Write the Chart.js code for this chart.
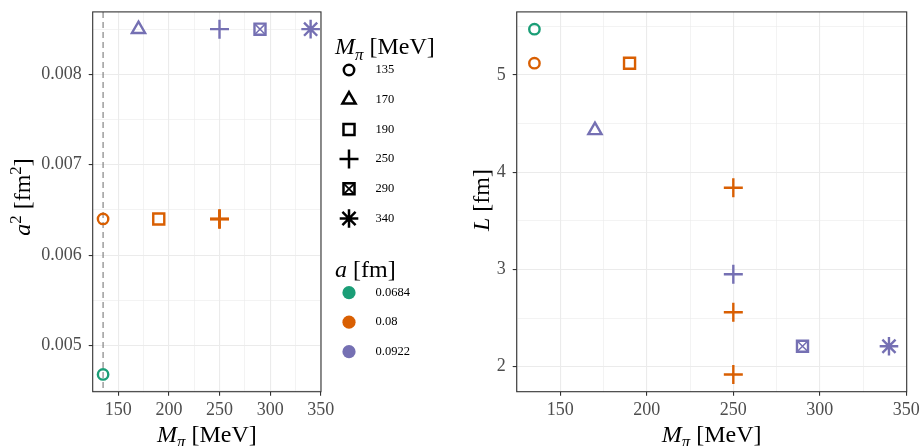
<!DOCTYPE html>
<html>
<head>
<meta charset="utf-8">
<script src="https://cdn.jsdelivr.net/npm/chart.js@4.4.1/dist/chart.umd.min.js"></script>
<style>
  html, body { margin: 0; padding: 0; background: #fff; }
  #wrap { position: relative; width: 921px; height: 446px; overflow: hidden; }
  .box { position: absolute; top: 0; height: 446px; }
  #leftBox { left: 0; width: 460px; }
  #rightBox { left: 460px; width: 461px; }
</style>
</head>
<body>
<div id="wrap">
  <div class="box" id="leftBox"><canvas id="leftChart"></canvas></div>
  <div class="box" id="rightBox"><canvas id="rightChart"></canvas></div>
</div>
<script>
// ensembles: pion mass [MeV], lattice spacing a [fm], a^2 [fm^2], box size L [fm]
var ensMpi = [135, 135, 190, 250, 250, 250, 170, 250, 290, 340];
var ensA   = ['0.0684', '0.08', '0.08', '0.08', '0.08', '0.08', '0.0922', '0.0922', '0.0922', '0.0922'];
var ensA2  = [0.00468, 0.0064, 0.0064, 0.0064, 0.0064, 0.0064, 0.0085, 0.0085, 0.0085, 0.0085];
var ensL   = [5.47, 5.12, 5.12, 3.84, 2.56, 1.92, 4.43, 2.95, 2.21, 2.21];

// legend levels
var mpiLevels = [135, 170, 190, 250, 290, 340];
var aLevels = ['0.0684', '0.08', '0.0922'];
var aColors = ['#1b9e77', '#d95f02', '#7570b3'];

// tick positions (major get labels, minor only grid)
var xMajor = [150, 200, 250, 300, 350];
var xMinor = [125, 175, 225, 275, 325];
var a2Major = [0.005, 0.006, 0.007, 0.008];
var a2Minor = [0.0045, 0.0055, 0.0065, 0.0075, 0.0085];
var lMajor = [2, 3, 4, 5];
var lMinor = [2.5, 3.5, 4.5, 5.5];

// marker per pion mass (290 = square with a cross inside)
var shapeStyle  = {135: 'circle', 170: 'triangle', 190: 'rect', 250: 'cross', 290: 'rect', 340: 'star'};
var shapeRadius = {135: 5.2, 170: 7.6, 190: 7.8, 250: 9.5, 290: 7.8, 340: 9.3};

var FONT = '"Liberation Serif", "Times New Roman", serif';

function expand(arr) {
  var lo = Math.min.apply(null, arr), hi = Math.max.apply(null, arr);
  var pad = (hi - lo) * 0.05;
  return [lo - pad, hi + pad];
}

function tickList(major, minor) {
  var t = major.map(function(v) { return {value: v, isMajor: true}; })
    .concat(minor.map(function(v) { return {value: v, isMajor: false}; }));
  t.sort(function(a, b) { return a.value - b.value; });
  return t;
}

function buildDatasets(yArr) {
  var sets = [];
  aLevels.forEach(function(a, k) {
    var pts = [], styles = [], radii = [];
    for (var i = 0; i < ensMpi.length; i++) {
      if (ensA[i] !== a) continue;
      pts.push({x: ensMpi[i], y: yArr[i]});
      styles.push(shapeStyle[ensMpi[i]]);
      radii.push(shapeRadius[ensMpi[i]]);
    }
    sets.push({
      data: pts,
      pointStyle: styles,
      pointRadius: radii,
      pointBorderWidth: 2.4,
      pointBorderColor: aColors[k],
      pointBackgroundColor: 'rgba(0,0,0,0)',
      borderColor: aColors[k]
    });
  });
  // the X inside the 290 squares
  aLevels.forEach(function(a, k) {
    var pts = [];
    for (var i = 0; i < ensMpi.length; i++) {
      if (ensA[i] === a && ensMpi[i] === 290) pts.push({x: ensMpi[i], y: yArr[i]});
    }
    if (pts.length) {
      sets.push({
        data: pts,
        pointStyle: 'crossRot',
        pointRadius: shapeRadius[290],
        pointBorderWidth: 1.5,
        pointBorderColor: aColors[k],
        borderColor: aColors[k]
      });
    }
  });
  return sets;
}

function axis(lim, major, minor, fmt, fitSize, isX) {
  return {
    type: 'linear',
    min: lim[0],
    max: lim[1],
    afterBuildTicks: function(ax) { ax.ticks = tickList(major, minor); },
    afterFit: function(ax) {
      if (isX) ax.height = fitSize; else ax.width = fitSize;
      ax.paddingTop = 0; ax.paddingBottom = 0; ax.paddingLeft = 0; ax.paddingRight = 0;
    },
    border: { display: false },
    grid: {
      color: '#ebebeb',
      lineWidth: function(c) { return c.tick && c.tick.isMajor ? 1.1 : 0.6; },
      tickLength: 4,
      tickWidth: 1.1,
      tickColor: function(c) { return c.tick && c.tick.isMajor ? '#333333' : 'rgba(0,0,0,0)'; }
    },
    ticks: {
      autoSkip: false,
      maxRotation: 0,
      padding: isX ? 4 : 7,
      color: '#4d4d4d',
      font: { family: FONT, size: 18 },
      callback: function(value, index, ticks) {
        return ticks[index].isMajor ? fmt(value) : '';
      }
    }
  };
}

// rich text: parts with italic / sub / sup
function drawRich(ctx, parts, x, y, size, align) {
  var segs = parts.map(function(p) {
    var s = (p.sup || p.sub) ? size * 0.7 : size;
    var f = (p.it ? 'italic ' : '') + s + 'px ' + FONT;
    ctx.font = f;
    return { t: p.t, f: f, w: ctx.measureText(p.t).width, dy: p.sup ? -size * 0.38 : (p.sub ? size * 0.22 : 0) };
  });
  var total = 0;
  segs.forEach(function(s) { total += s.w; });
  var cx = align === 'left' ? x : x - total / 2;
  ctx.textAlign = 'left';
  ctx.textBaseline = 'alphabetic';
  segs.forEach(function(s) {
    ctx.font = s.f;
    ctx.fillText(s.t, cx, y + s.dy);
    cx += s.w;
  });
}

var mpiTitle = [{t: 'M', it: true}, {t: '\u03c0', it: true, sub: true}, {t: ' [MeV]'}];

function drawMarker(ctx, style, r, x, y, lw) {
  ctx.lineWidth = lw;
  Chart.helpers.drawPoint(ctx, { pointStyle: style, radius: r, borderWidth: lw, rotation: 0 }, x, y);
}

var panelPlugin = {
  id: 'panel',
  beforeDatasetsDraw: function(chart, args, opts) {
    var ctx = chart.ctx, a = chart.chartArea;
    if (opts.vline != null) {
      var px = chart.scales.x.getPixelForValue(opts.vline);
      ctx.save();
      ctx.strokeStyle = '#7a7a7a';
      ctx.lineWidth = 1.1;
      ctx.setLineDash([6, 4]);
      ctx.beginPath();
      ctx.moveTo(px, a.top);
      ctx.lineTo(px, a.bottom);
      ctx.stroke();
      ctx.restore();
    }
  },
  afterDatasetsDraw: function(chart) {
    var ctx = chart.ctx, a = chart.chartArea;
    ctx.save();
    ctx.strokeStyle = '#333333';
    ctx.lineWidth = 1.1;
    ctx.strokeRect(a.left, a.top, a.right - a.left, a.bottom - a.top);
    ctx.restore();
  },
  afterDraw: function(chart, args, opts) {
    var ctx = chart.ctx, a = chart.chartArea;
    ctx.save();
    ctx.fillStyle = '#000';
    drawRich(ctx, mpiTitle, (a.left + a.right) / 2, 441.5, 24, 'center');
    ctx.save();
    ctx.translate(opts.yTitleX, opts.yTitleY);
    ctx.rotate(-Math.PI / 2);
    drawRich(ctx, opts.yTitle, 0, 0, 24, 'center');
    ctx.restore();

    if (opts.legend) {
      // shape legend
      drawRich(ctx, mpiTitle, 335, 54.3, 24, 'left');
      mpiLevels.forEach(function(m, i) {
        var y = 70 + i * 29.7;
        ctx.save();
        ctx.strokeStyle = '#000';
        ctx.fillStyle = 'rgba(0,0,0,0)';
        drawMarker(ctx, shapeStyle[m], shapeRadius[m], 349, y, 2.5);
        if (m === 290) drawMarker(ctx, 'crossRot', shapeRadius[m], 349, y, 1.7);
        ctx.restore();
        ctx.font = '12.5px ' + FONT;
        ctx.textAlign = 'left';
        ctx.textBaseline = 'middle';
        ctx.fillStyle = '#000';
        ctx.fillText(String(m), 375.5, y);
      });
      // colour legend
      ctx.fillStyle = '#000';
      drawRich(ctx, [{t: 'a', it: true}, {t: ' [fm]'}], 335, 276.7, 24, 'left');
      aLevels.forEach(function(lbl, i) {
        var y = 292.7 + i * 29.5;
        ctx.beginPath();
        ctx.arc(349, y, 6.6, 0, Math.PI * 2);
        ctx.fillStyle = aColors[i];
        ctx.fill();
        ctx.font = '12.5px ' + FONT;
        ctx.textAlign = 'left';
        ctx.textBaseline = 'middle';
        ctx.fillStyle = '#000';
        ctx.fillText(lbl, 375.5, y);
      });
    }
    ctx.restore();
  }
};

var xLim = expand(ensMpi);

new Chart(document.getElementById('leftChart'), {
  type: 'scatter',
  data: { datasets: buildDatasets(ensA2) },
  options: {
    responsive: true,
    maintainAspectRatio: false,
    animation: false,
    events: [],
    layout: { padding: { top: 8.3, right: 139, bottom: 0, left: 0 } },
    scales: {
      x: axis(xLim, xMajor, xMinor, function(v) { return String(v); }, 54.3, true),
      y: axis(expand(ensA2), a2Major, a2Minor, function(v) { return v.toFixed(3); }, 92.7, false)
    },
    plugins: {
      legend: { display: false },
      tooltip: { enabled: false },
      panel: {
        vline: 135,
        yTitle: [{t: 'a', it: true}, {t: '2', sup: true}, {t: ' [fm'}, {t: '2', sup: true}, {t: ']'}],
        yTitleX: 30, yTitleY: 197,
        legend: true
      }
    }
  },
  plugins: [panelPlugin]
});

new Chart(document.getElementById('rightChart'), {
  type: 'scatter',
  data: { datasets: buildDatasets(ensL) },
  options: {
    responsive: true,
    maintainAspectRatio: false,
    animation: false,
    events: [],
    layout: { padding: { top: 8.3, right: 14.3, bottom: 0, left: 0 } },
    scales: {
      x: axis(xLim, xMajor, xMinor, function(v) { return String(v); }, 54.3, true),
      y: axis(expand(ensL), lMajor, lMinor, function(v) { return String(v); }, 56.7, false)
    },
    plugins: {
      legend: { display: false },
      tooltip: { enabled: false },
      panel: {
        vline: null,
        yTitle: [{t: 'L', it: true}, {t: ' [fm]'}],
        yTitleX: 29, yTitleY: 200,
        legend: false
      }
    }
  },
  plugins: [panelPlugin]
});
</script>
</body>
</html>
